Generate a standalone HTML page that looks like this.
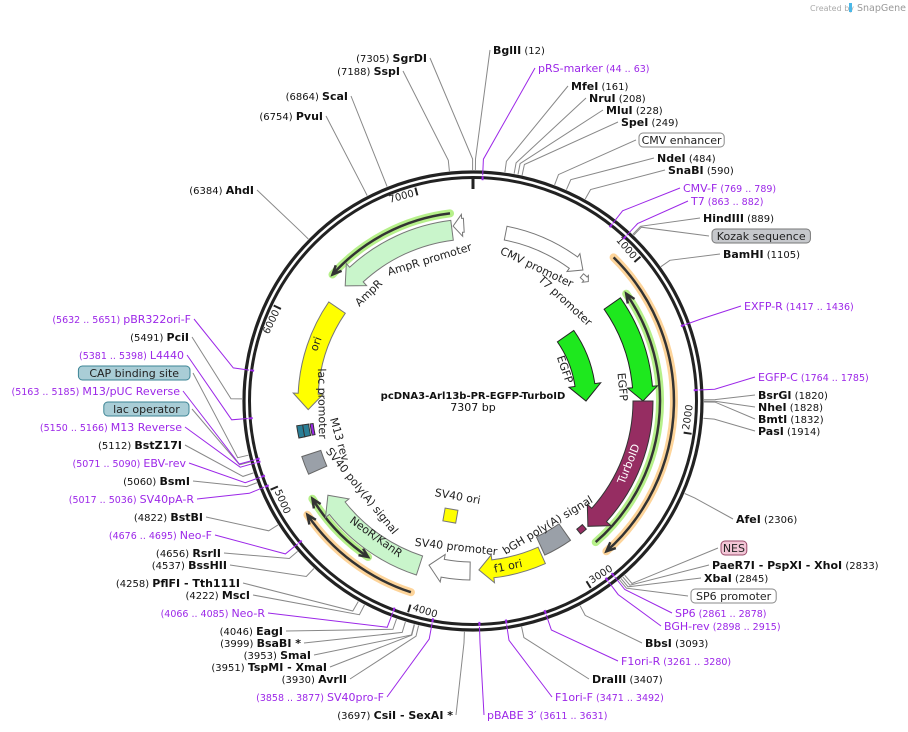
<!DOCTYPE html>
<html><head><meta charset="utf-8">
<style>
html,body{margin:0;padding:0;background:#fff;}
svg{display:block;font-family:"DejaVu Sans","Liberation Sans",sans-serif;}
</style></head>
<body>
<svg id="s" width="908" height="732" viewBox="0 0 908 732" xmlns="http://www.w3.org/2000/svg">
<text x="810" y="11" font-size="8" fill="#aaa">Created by</text>
<rect x="849" y="3" width="3" height="9" fill="#4ab8e8"/>
<text x="857" y="11" font-size="9.5" fill="#999">SnapGene</text>
<g id="g"></g>
</svg>
<script>
var CX=473,CY=401,N=7307,NS="http://www.w3.org/2000/svg";
var g=document.getElementById('g');
function rad(a){return a*Math.PI/180;}
function pt(r,a){return [CX+r*Math.sin(rad(a)),CY-r*Math.cos(rad(a))];}
function P(p){return p[0].toFixed(1)+' '+p[1].toFixed(1);}
function ang(p){return p/N*360;}
function add(tag,attrs,txt){var e=document.createElementNS(NS,tag);for(var k in attrs)e.setAttribute(k,attrs[k]);if(txt!=null)e.textContent=txt;g.appendChild(e);return e;}
function arc(r,a1,a2){var s=a2>a1?1:0;var l=Math.abs(a2-a1)>180?1:0;return 'M'+P(pt(r,a1))+' A'+r+' '+r+' 0 '+l+' '+s+' '+P(pt(r,a2));}
function arrow(r,w,a1,a2,fill,stroke,head,hw){
 head=head||14;hw=hw||4;var s=a2>a1?1:-1;var hd=head/r*180/Math.PI;var b=a2-s*hd;
 if(Math.abs(a2-a1)<hd)b=a1;
 var ro=r+w/2,ri=r-w/2,ro2=ro+hw,ri2=ri-hw;var l=Math.abs(b-a1)>180?1:0;var sw=s>0?1:0;
 var d='M'+P(pt(ro,a1))+' A'+ro+' '+ro+' 0 '+l+' '+sw+' '+P(pt(ro,b))+' L'+P(pt(ro2,b))+' L'+P(pt(r,a2))+' L'+P(pt(ri2,b))+' L'+P(pt(ri,b))+' A'+ri+' '+ri+' 0 '+l+' '+(1-sw)+' '+P(pt(ri,a1))+' Z';
 add('path',{d:d,fill:fill,stroke:stroke,'stroke-width':1});
}
function box(r,w,a1,a2,fill,stroke){
 var ro=r+w/2,ri=r-w/2;var d='M'+P(pt(ro,a1))+' A'+ro+' '+ro+' 0 0 1 '+P(pt(ro,a2))+' L'+P(pt(ri,a2))+' A'+ri+' '+ri+' 0 0 0 '+P(pt(ri,a1))+' Z';
 add('path',{d:d,fill:fill,stroke:stroke,'stroke-width':1});
}
function track(r,a1,a2,col,head,headEnd){
 add('path',{d:arc(r,a1,a2),fill:'none',stroke:col,'stroke-width':8,'stroke-linecap':'round'});
 add('path',{d:arc(r,a1,a2),fill:'none',stroke:'#333','stroke-width':2.5});
 function hd(at,from){var p=pt(r,at),q=pt(r,from);var dx=p[0]-q[0],dy=p[1]-q[1],L=Math.hypot(dx,dy);dx/=L;dy/=L;
  var b1=[p[0]-dx*9+dy*4,p[1]-dy*9-dx*4],b2=[p[0]-dx*9-dy*4,p[1]-dy*9+dx*4];
  add('path',{d:'M'+P(b1)+' L'+P(p)+' L'+P(b2),fill:'none',stroke:'#333','stroke-width':2.5});}
 var s=a2>a1?1:-1;
 if(headEnd!==false)hd(a2,a2-s*3);
 if(head)hd(a1,a1+s*3);
}
function rotFor(a){if(a>90&&a<270)return a-180;if(a>=270)return a-360;return a;}
function lab(r,a,t,col,sz,wt){
 var p=pt(r,a);var rot=rotFor(a);
 add('text',{x:p[0].toFixed(1),y:p[1].toFixed(1),'font-size':sz||11,fill:col||'#222','text-anchor':'middle','dominant-baseline':'central','font-weight':wt||'normal',transform:'rotate('+rot.toFixed(1)+' '+p[0].toFixed(1)+' '+p[1].toFixed(1)+')'},t);
}

// outer ring
add('circle',{cx:CX,cy:CY,r:229,fill:'none',stroke:'#222','stroke-width':3.2});
add('circle',{cx:CX,cy:CY,r:223.5,fill:'none',stroke:'#222','stroke-width':3});
add('line',{x1:473,y1:176,x2:473,y2:189,stroke:'#222','stroke-width':3});
[1000,2000,3000,4000,5000,6000,7000].forEach(function(k){
 var a=ang(k);var p1=pt(221,a),p2=pt(213,a);add('line',{x1:p1[0],y1:p1[1],x2:p2[0],y2:p2[1],stroke:'#222','stroke-width':2});
 var p=pt(221,a-0.8);var flip=(a>90&&a<270);var rot=rotFor(a);
 add('text',{x:p[0].toFixed(1),y:p[1].toFixed(1),'font-size':10,fill:'#222','text-anchor':flip?'start':'end','dominant-baseline':flip?'text-after-edge':'text-before-edge',transform:'rotate('+rot.toFixed(1)+' '+p[0].toFixed(1)+' '+p[1].toFixed(1)+')'},String(k));
});

// outer tracks
track(201,44.4,138.4,'#fdd49a');
track(187,139,55,'#b6f08a');
track(189,353,312,'#b6f08a');
track(188,238.7,213.9,'#b6f08a',true);
track(201,198,235.5,'#fdd49a');

// features
arrow(171,14,11,40,'#fff','#777',12,4);
arrow(166,5,41,44,'#fff','#777',4,2);
arrow(113,20,55,90,'#1ee81e','#222',16,6);
arrow(170,20,55,90,'#1ee81e','#222',14,5);
arrow(170,20,90,137.5,'#962d62','#333',16,6);
box(168,6,138.5,141,'#962d62','#333');
box(160,20,145,155,'#9aa0a8','#666');
arrow(169,18,156,178,'#ffff00','#777',14,5);
arrow(170,18,181,195,'#fff','#777',14,5);
arrow(173,20,198,237,'#c9f5cb','#777',16,5);
box(170,20,246,252,'#9aa0a8','#666');
box(175,6,258,262,'#2a7e96','#333');
box(169,6,258,262,'#2a7e96','#333');
box(163,3,258,262,'#9c27e8','#333');
arrow(165,20,304.5,267,'#ffff00','#777',16,5);
arrow(172,20,353,312,'#c9f5cb','#777',16,5);
arrow(176,14,357,353.5,'#fff','#777',9,4);
add('rect',{x:444,y:509,width:13,height:13,fill:'#ffff00',stroke:'#777',transform:'rotate(10 450 515)'});

// inner labels
lab(148,25.5,'CMV promoter');
lab(136,42.6,'T7 promoter');
lab(97,71,'EGFP');
lab(150,84.6,'EGFP');
lab(168,112,'TurboID','#fff');
lab(145,149,'bGH poly(A) signal');
lab(169,168,'f1 ori');
lab(147,186.6,'SV40 promoter');
lab(167,215.5,'NeoR/KanR');
lab(143,231,'SV40 poly(A) signal');
lab(139,254,'M13 rev');
lab(151,269,'lac promoter');
lab(167,290,'ori');
lab(150,316,'AmpR');
lab(148,343,'AmpR promoter');
add('text',{x:457,y:500,'font-size':11,'text-anchor':'middle',fill:'#222',transform:'rotate(10 457 500)'},'SV40 ori');
add('text',{x:473,y:399,'font-size':10,'font-weight':'bold','text-anchor':'middle',fill:'#111'},'pcDNA3-Arl13b-PR-EGFP-TurboID');
add('text',{x:473,y:411,'font-size':11,'text-anchor':'middle',fill:'#111'},'7307 bp');

var P_='#9c27e8';
var L=[
['L',427,58,'SgrDI','(7305)',7305],
['L',400,71,'SspI','(7188)',7188],
['R',493,50,'BglII','(12)',12],
['R',538,68,'pRS-marker','(44 .. 63)',50,'p'],
['R',571,86,'MfeI','(161)',161],
['R',589,98,'NruI','(208)',208],
['R',606,110,'MluI','(228)',228],
['R',621,122,'SpeI','(249)',249],
['R',639,140,'CMV enhancer','',420,'bw'],
['R',657,158,'NdeI','(484)',484],
['R',668,170,'SnaBI','(590)',590],
['R',683,188,'CMV-F','(769 .. 789)',775,'p'],
['R',691,201,'T7','(863 .. 882)',870,'p'],
['R',703,218,'HindIII','(889)',889],
['R',712,236,'Kozak sequence','',895,'bg'],
['R',723,254,'BamHI','(1105)',1105],
['R',744,306,'EXFP-R','(1417 .. 1436)',1425,'p'],
['R',758,377,'EGFP-C','(1764 .. 1785)',1770,'p'],
['R',758,395,'BsrGI','(1820)',1820],
['R',758,407,'NheI','(1828)',1828],
['R',758,419,'BmtI','(1832)',1832],
['R',758,431,'PasI','(1914)',1914],
['R',736,519,'AfeI','(2306)',2306],
['R',721,548,'NES','',2820,'bn'],
['R',712,565,'PaeR7I   - PspXI   - XhoI','(2833)',2833],
['R',704,578,'XbaI','(2845)',2845],
['R',691,596,'SP6 promoter','',2855,'bw'],
['R',675,613,'SP6','(2861 .. 2878)',2865,'p'],
['R',664,626,'BGH-rev','(2898 .. 2915)',2905,'p'],
['R',645,643,'BbsI','(3093)',3093],
['R',621,661,'F1ori-R','(3261 .. 3280)',3270,'p'],
['R',592,679,'DraIII','(3407)',3407],
['R',555,697,'F1ori-F','(3471 .. 3492)',3480,'p'],
['R',487,715,'pBABE 3\u2032','(3611 .. 3631)',3620,'p'],
['L',453,715,'CsiI   - SexAI  *','(3697)',3697],
['L',384,697,'SV40pro-F','(3858 .. 3877)',3865,'p'],
['L',347,679,'AvrII','(3930)',3930],
['L',327,667,'TspMI   - XmaI','(3951)',3951],
['L',311,655,'SmaI','(3953)',3953],
['L',301,643,'BsaBI  *','(3999)',3999],
['L',283,631,'EagI','(4046)',4046],
['L',265,613,'Neo-R','(4066 .. 4085)',4075,'p'],
['L',250,595,'MscI','(4222)',4222],
['L',240,583,'PflFI   - Tth111I','(4258)',4258],
['L',227,565,'BssHII','(4537)',4537],
['L',221,553,'RsrII','(4656)',4656],
['L',212,535,'Neo-F','(4676 .. 4695)',4685,'p'],
['L',203,517,'BstBI','(4822)',4822],
['L',194,499,'SV40pA-R','(5017 .. 5036)',5025,'p'],
['L',190,481,'BsmI','(5060)',5060],
['L',186,463,'EBV-rev','(5071 .. 5090)',5080,'p'],
['L',182,445,'BstZ17I','(5112)',5112],
['L',182,427,'M13 Reverse','(5150 .. 5166)',5158,'p'],
['L',189,409,'lac operator','',5170,'bb'],
['L',180,391,'M13/pUC Reverse','(5163 .. 5185)',5174,'p'],
['L',190,373,'CAP binding site','',5205,'bb'],
['L',184,355,'L4440','(5381 .. 5398)',5390,'p'],
['L',189,337,'PciI','(5491)',5491],
['L',191,319,'pBR322ori-F','(5632 .. 5651)',5640,'p'],
['L',254,190,'AhdI','(6384)',6384],
['L',323,116,'PvuI','(6754)',6754],
['L',348,96,'ScaI','(6864)',6864]
];
L.forEach(function(d){
 var side=d[0],x=d[1],y=d[2],nm=d[3],num=d[4],pos=d[5],ty=d[6]||'e';
 var purple=ty=='p',isBox=ty[0]=='b';
 var col=purple?P_:'#111';
 var a=ang(pos);var r1=pt(purple?226:231,a),r2=pt(242,a);
 var ax=side=='R'?x-3:x+3;
 add('polyline',{points:P(r1)+' '+P(r2)+' '+ax+' '+y,fill:'none',stroke:purple?P_:'#888','stroke-width':1});
 if(purple){var m=pt(225,a),m2=pt(221,a);add('line',{x1:m[0],y1:m[1],x2:m2[0],y2:m2[1],stroke:P_,'stroke-width':2});}
 var bl=y+4;
 if(isBox){
  var w=nm.length*6.6+6;var bx=side=='R'?x:x-w;
  var fill={bw:'#fff',bg:'#c6c8cc',bn:'#f2c6d6',bb:'#a9cdd6'}[ty];var st={bw:'#888',bg:'#777',bn:'#9a4a6a',bb:'#3d8595'}[ty];
  add('rect',{x:bx,y:y-7,width:w,height:14,rx:4,fill:fill,stroke:st,'stroke-width':1});
  add('text',{x:bx+w/2,y:bl,'font-size':11,'text-anchor':'middle',fill:'#222'},nm);
  return;
 }
 var t=document.createElementNS(NS,'text');t.setAttribute('y',bl);t.setAttribute('x',x);
 t.setAttribute('text-anchor',side=='R'?'start':'end');t.setAttribute('xml:space','preserve');
 function ts(s,b,sz){var e=document.createElementNS(NS,'tspan');e.setAttribute('font-size',sz);if(b)e.setAttribute('font-weight','bold');e.setAttribute('fill',col);e.textContent=s;t.appendChild(e);}
 if(side=='R'){ts(nm,!purple,11);ts('   '+num,false,purple?9.5:10);}
 else{ts(num+'  ',false,purple?9.5:10);ts(nm,!purple,11);}
 g.appendChild(t);
});
</script>
</body></html>
